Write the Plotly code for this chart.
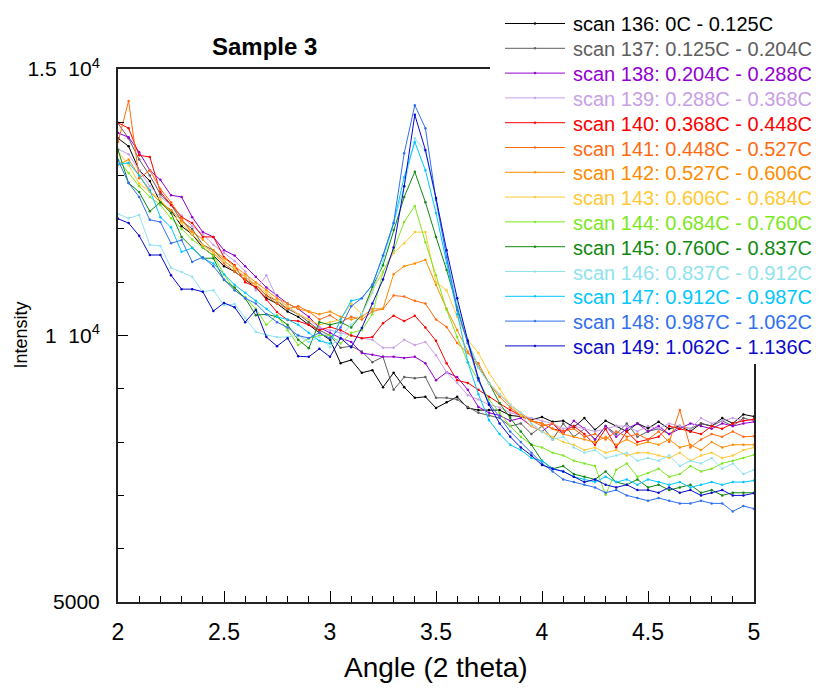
import plotly.graph_objects as go

angle = [round(2 + 0.05 * i, 2) for i in range(61)]

names = [
    "scan 136: 0C - 0.125C", "scan 137: 0.125C - 0.204C", "scan 138: 0.204C - 0.288C",
    "scan 139: 0.288C - 0.368C", "scan 140: 0.368C - 0.448C", "scan 141: 0.448C - 0.527C",
    "scan 142: 0.527C - 0.606C", "scan 143: 0.606C - 0.684C", "scan 144: 0.684C - 0.760C",
    "scan 145: 0.760C - 0.837C", "scan 146: 0.837C - 0.912C", "scan 147: 0.912C - 0.987C",
    "scan 148: 0.987C - 1.062C", "scan 149: 1.062C - 1.136C",
]
colors = ["#000000", "#5E5E5E", "#9400D3", "#C8A0E6", "#FF0000", "#FF6A10", "#FF8C00",
          "#FFC933", "#7CE81E", "#118811", "#8FE3EE", "#00C8FF", "#3070F0", "#0A0ACC"]

scan136 = [13700, 13550, 13100, 12900, 12500, 12350, 12050, 11900, 11650, 11500,
           11300, 11200, 11050, 10900, 10700, 10600, 10450, 10350, 10200, 10050,
           9920, 9480, 9540, 9300, 9350, 9030, 9300, 9030, 8830, 8850,
           8640, 8750, 8850, 8640, 8600, 8600, 8600, 8500, 8480, 8420,
           8470, 8380, 8400, 8280, 8450, 8230, 8400, 8300, 8200, 8350,
           8260, 8380, 8250, 8300, 8200, 8350, 8300, 8450, 8350, 8520,
           8480]
scan137 = [13980, 13700, 13300, 13000, 12650, 12450, 12150, 12000, 11700, 11600,
           11400, 11250, 11100, 10950, 10750, 10650, 10500, 10400, 10250, 10100,
           10000, 9770, 9800, 9700, 9500, 9600, 8980, 9220, 9200, 9220,
           8830, 8830, 8800, 8660, 8550, 8500, 8450, 8300, 8350, 8150,
           8300, 8050, 8350, 8100, 8250, 8050, 8300, 8150, 8350, 8100,
           8200, 8250, 8150, 8300, 8250, 8350, 8300, 8400, 8300, 8450,
           8400]
scan138 = [13800, 13720, 13440, 13100, 12920, 12630, 12600, 12220, 11940, 11850,
           11600, 11500, 11300, 11100, 10900, 10750, 10600, 10500, 10350, 10150,
           10050, 9950, 9880, 9670, 9640, 9600, 9600, 9580, 9600, 9480,
           9160, 9310, 9220, 8980, 8660, 8550, 8500, 8400, 8450, 8300,
           8200, 8350, 8150, 8400, 8250, 8050, 8300, 8100, 8250, 8350,
           8200, 8300, 8150, 8250, 8350, 8300, 8250, 8350, 8300, 8350,
           8380]
scan139 = [13500, 13400, 13100, 12800, 12600, 12450, 12250, 12050, 11900, 11700,
           11550, 11400, 11200, 10850, 11130, 10700, 10550, 10400, 10300, 10150,
           10100, 10050, 10000, 9950, 9920, 9770, 9770, 9920, 9820, 9880,
           9630, 9310, 9110, 8880, 8800, 8700, 8650, 8550, 8500, 8450,
           8400, 8350, 8250, 8300, 8250, 8200, 8250, 8300, 8300, 8200,
           8300, 8250, 8350, 8300, 8250, 8450, 8350, 8400, 8450, 8400,
           8420]
scan140 = [13990, 13890, 13380, 13350, 12690, 12450, 12220, 12110, 11850, 11850,
           11470, 11320, 11000, 10910, 10670, 10440, 10290, 10270, 10200, 10100,
           10160, 10100, 10000, 9950, 9970, 10230, 10370, 10270, 10370, 10150,
           9900, 9480, 9160, 9110, 8980, 8850, 8730, 8600, 8500, 8400,
           8350, 8250, 8200, 8300, 8150, 7950, 8250, 7900, 8200, 8000,
           8050, 8100, 8300, 8250, 8200, 8150, 8300, 8250, 8350, 8400,
           8430]
scan141 = [13630, 14400, 12950, 13100, 12750, 12500, 12200, 11900, 11700, 11550,
           11350, 11200, 11050, 10950, 10750, 10600, 10500, 10550, 10450, 10300,
           10380, 10250, 10350, 10300, 10450, 10500, 10750, 10730, 10650, 10600,
           10300, 10160, 9860, 9670, 9480, 9100, 8850, 8650, 8500, 8400,
           8300, 8350, 8200, 8250, 8100, 8150, 8050, 8200, 8100, 8150,
           8050, 8200, 8000, 8600, 7900, 8050, 8150, 8100, 8200, 8100,
           8110]
scan142 = [13200, 13300, 13000, 12700, 12500, 12350, 12150, 11950, 11800, 11600,
           11450, 11300, 11150, 11000, 10850, 10700, 10600, 10500, 10450, 10400,
           10450, 10350, 10300, 10350, 10500, 10500, 11150, 11300, 11350, 11420,
           10950, 10500, 10100, 9700, 9400, 9100, 8900, 8700, 8550, 8400,
           8350, 8250, 8150, 8100, 8050, 8000, 8100, 7950, 8050, 7950,
           8000, 7950, 8050, 7900, 7950, 7850, 8000, 7900, 7950, 7950,
           7950]
scan143 = [13450, 13200, 12850, 12700, 12550, 12300, 12100, 11900, 11700, 11550,
           11400, 11250, 11100, 10950, 10800, 10650, 10550, 10400, 10300, 10200,
           10250, 10300, 10600, 10400, 10850, 11190, 11550, 11730, 11940, 11940,
           11000, 10850, 10350, 9920, 9670, 9300, 9000, 8700, 8500, 8300,
           8200, 8100, 8000, 7950, 7850, 7900, 7800, 7850, 7750, 7800,
           7800, 7750, 7700, 7800, 7650, 7750, 7800, 7700, 7750, 7850,
           7900]
scan144 = [13300, 13050, 12800, 12600, 12450, 12200, 12000, 11800, 11650, 11500,
           11150, 10850, 10720, 10500, 10200, 10380, 10100, 9820, 9950, 10000,
           10010, 9850, 10050, 10100, 10400, 11190, 11600, 12130, 12430, 11750,
           11130, 10480, 9970, 9500, 9150, 8800, 8550, 8300, 8100, 7950,
           7900, 7800, 7750, 7650, 7600, 7550, 7010, 7480, 7600, 7350,
           7420, 7500, 7350, 7400, 7550, 7450, 7500, 7600, 7650, 7700,
           7760]
scan145 = [13480, 12860, 12690, 12330, 12500, 12300, 11850, 11640, 11450, 11450,
           11040, 10900, 10700, 10380, 10400, 10350, 10200, 9920, 9760, 10250,
           10200, 10250, 10150, 10400, 10910, 11320, 11980, 12600, 13070, 12500,
           11850, 11230, 10540, 9860, 9410, 9110, 8730, 8450, 8200, 7950,
           7650, 7500, 7550, 7400, 7350, 7300, 7450, 7250, 7200, 7300,
           7150, 7200, 7100, 7150, 7200, 7050, 7100, 7000, 7050, 7050,
           7050]
scan146 = [12280, 12200, 12260, 11700, 11680, 11270, 11190, 11100, 10820, 10850,
           10570, 10590, 10330, 10070, 10010, 9970, 9970, 10010, 9880, 9970,
           9780, 10000, 10200, 10400, 10800, 11400, 12100, 12800, 13700, 13450,
           12550, 11500, 10600, 9900, 9400, 9100, 8900, 8700, 8550, 8350,
           8200, 8050, 8100, 7900, 7800, 7850, 7700, 7750, 7800, 7650,
           7700, 7650, 7750, 7550, 7650, 7600, 7700, 7500, 7600, 7400,
           7480]
scan147 = [13210, 13240, 13000, 12730, 12220, 12030, 11570, 11640, 11450, 11350,
           11150, 10950, 10800, 10650, 10500, 10350, 10300, 10200, 10050, 9900,
           9850, 10300, 10650, 10700, 10950, 11500, 12110, 12970, 13630, 13100,
           12300, 11360, 10400, 9500, 8900, 8410, 8150, 7950, 7850, 7700,
           7650, 7500, 7450, 7350, 7300, 7250, 7350, 7250, 7300, 7200,
           7300, 7250, 7200, 7250, 7150, 7200, 7250, 7200, 7250, 7250,
           7280]
scan148 = [13290, 12860, 12600, 12170, 12130, 11730, 11790, 11380, 11470, 11300,
           11050, 10850, 10700, 10600, 10400, 10250, 10150, 10000, 9950, 10050,
           9950, 10150, 10550, 10700, 10950, 11500, 12110, 13420, 14320, 13890,
           12540, 11470, 10480, 9860, 9160, 8730, 8470, 8200, 8000, 7800,
           7600, 7450, 7300, 7250, 7200, 7150, 7050, 7100, 7000, 6950,
           6900, 6950, 6900, 6850, 6850, 6900, 6850, 6850, 6700, 6800,
           6750]
scan149 = [12190, 12110, 11870, 11510, 11510, 11130, 10870, 10870, 10820, 10460,
           10610, 10530, 10250, 10480, 9970, 9800, 9950, 9610, 9600, 9750,
           9600, 9950, 9780, 10140, 10600, 11050, 11650, 12800, 14140, 13480,
           12580, 11600, 10700, 9900, 9200, 8700, 8350, 8100, 7900, 7750,
           7570, 7500, 7450, 7350, 7250, 7300, 7200, 7150, 7200, 7100,
           7100, 7050, 7150, 7050, 7100, 7000, 7050, 7100, 7000, 7000,
           7040]

series = [scan136, scan137, scan138, scan139, scan140, scan141, scan142,
          scan143, scan144, scan145, scan146, scan147, scan148, scan149]

y_tickvals = [5000, 10000, 15000]
y_ticktext = ["5000", "1&nbsp;&nbsp;10<sup>4</sup>", "1.5&nbsp;&nbsp;10<sup>4</sup>"]
x_tickvals = [2, 2.5, 3, 3.5, 4, 4.5, 5]
x_ticktext = ["2", "2.5", "3", "3.5", "4", "4.5", "5"]

FONT = "Liberation Sans, Arial, sans-serif"

# plot-area geometry (pixels) used to place the hand-built legend
W, H = 823, 688
L, R, T, B = 118, 69, 69, 86
PW, PH = W - L - R, H - T - B


def px_x(p):
    return (p - L) / PW


def px_y(p):
    return (H - B - p) / PH


fig = go.Figure()
for name, col, ys in zip(names, colors, series):
    fig.add_trace(go.Scatter(
        x=angle, y=ys, mode="lines+markers", name=name, showlegend=False,
        line=dict(color=col, width=1),
        marker=dict(color=col, size=2.5),
    ))

shapes = [dict(type="rect", xref="paper", yref="paper", layer="above",
               x0=px_x(490), x1=px_x(W), y0=px_y(364), y1=px_y(0),
               fillcolor="white", line=dict(width=0))]
annotations = []
for i, (name, col) in enumerate(zip(names, colors)):
    yc = 23.5 + 24.8 * i
    shapes.append(dict(type="line", xref="paper", yref="paper", layer="above",
                       x0=px_x(505), x1=px_x(565), y0=px_y(yc), y1=px_y(yc),
                       line=dict(color=col, width=1)))
    shapes.append(dict(type="circle", xref="paper", yref="paper", layer="above",
                       x0=px_x(534), x1=px_x(536), y0=px_y(yc + 1), y1=px_y(yc - 1),
                       fillcolor=col, line=dict(color=col, width=0.5)))
    annotations.append(dict(text=name, x=px_x(571), y=px_y(yc + 1), xref="paper", yref="paper",
                            xanchor="left", yanchor="middle", showarrow=False,
                            font=dict(family=FONT, size=20, color=col)))

annotations += [
    dict(text="<b>Sample 3</b>", x=px_x(264), y=px_y(47), xref="paper", yref="paper",
         xanchor="center", yanchor="middle", showarrow=False,
         font=dict(family=FONT, size=24)),
    dict(text="Angle (2 theta)", x=0.5, y=px_y(667), xref="paper", yref="paper",
         xanchor="center", yanchor="middle", showarrow=False,
         font=dict(family=FONT, size=28)),
    dict(text="Intensity", x=px_x(20), y=0.5, xref="paper", yref="paper",
         xanchor="center", yanchor="middle", textangle=-90, showarrow=False,
         font=dict(family=FONT, size=18)),
]

fig.update_layout(
    width=W, height=H,
    margin=dict(l=L, r=R, t=T, b=B),
    paper_bgcolor="white", plot_bgcolor="white",
    font=dict(family=FONT, color="black"),
    showlegend=False,
    xaxis=dict(
        range=[2, 5], tickvals=x_tickvals, ticktext=x_ticktext,
        ticks="inside", ticklen=11, tickwidth=1, tickcolor="black",
        minor=dict(dtick=0.1, ticks="inside", ticklen=6, tickcolor="black"),
        showline=True, linecolor="#222222", linewidth=2, mirror=True,
        showgrid=False, zeroline=False,
        tickfont=dict(family=FONT, size=23), ticklabelstandoff=8,
    ),
    yaxis=dict(
        range=[5000, 15000], tickvals=y_tickvals, ticktext=y_ticktext,
        ticks="inside", ticklen=10, tickwidth=1, tickcolor="black",
        minor=dict(dtick=1000, ticks="inside", ticklen=6, tickcolor="black"),
        showline=True, linecolor="#222222", linewidth=2, mirror=True,
        showgrid=False, zeroline=False,
        tickfont=dict(family=FONT, size=21), ticklabelstandoff=12,
    ),
    shapes=shapes,
    annotations=annotations,
)

fig.write_html("out.html")
